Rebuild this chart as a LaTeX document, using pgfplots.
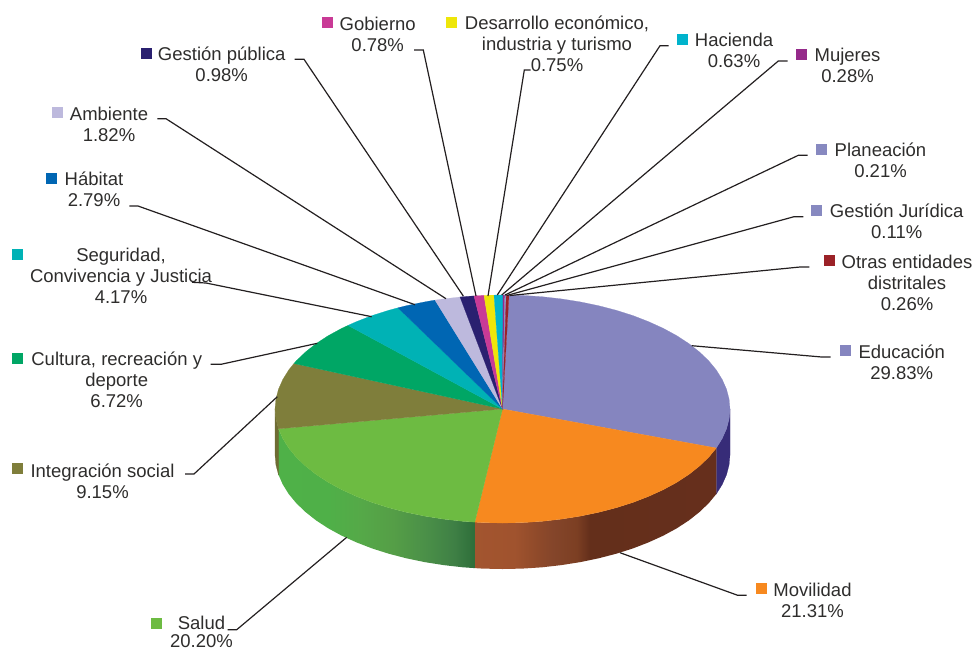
\documentclass[border=0pt]{standalone}
\usepackage{fontspec}
\setmainfont{Liberation Sans}
\usepackage{pgfplots}
\pgfplotsset{compat=1.18}

% top faces
\definecolor{edu}{HTML}{8585BF}
\definecolor{mov}{HTML}{F7891F}
\definecolor{sal}{HTML}{6DBB42}
\definecolor{int}{HTML}{7F7E3B}
\definecolor{cul}{HTML}{00A665}
\definecolor{seg}{HTML}{00B2B5}
\definecolor{hab}{HTML}{0066B3}
\definecolor{amb}{HTML}{BDB9DD}
\definecolor{gpu}{HTML}{2A2070}
\definecolor{gob}{HTML}{C93A96}
\definecolor{des}{HTML}{EEE609}
\definecolor{hac}{HTML}{00B3CC}
\definecolor{muj}{HTML}{952A8A}
\definecolor{pla}{HTML}{8789C0}
\definecolor{jur}{HTML}{8789C0}
\definecolor{otr}{HTML}{9B2227}
\definecolor{txt}{HTML}{2E2D2C}
\definecolor{lead}{HTML}{231F20}
\definecolor{eduside}{HTML}{372C78}
\definecolor{intside}{HTML}{6E6C33}

% side walls: the path's box runs from 25bp to 75bp of the shading
\pgfdeclarehorizontalshading{salside}{100bp}{
  rgb(0bp)=(0.31,0.694,0.282);
  rgb(25bp)=(0.31,0.694,0.282);
  rgb(37.6bp)=(0.31,0.69,0.282);
  rgb(45.8bp)=(0.333,0.663,0.282);
  rgb(54.2bp)=(0.333,0.62,0.278);
  rgb(62.8bp)=(0.29,0.561,0.282);
  rgb(69.5bp)=(0.247,0.502,0.271);
  rgb(75bp)=(0.18,0.431,0.227);
  rgb(100bp)=(0.18,0.431,0.227)}
\pgfdeclarehorizontalshading{movside}{100bp}{
  rgb(0bp)=(0.639,0.333,0.184);
  rgb(25bp)=(0.639,0.333,0.184);
  rgb(33.3bp)=(0.627,0.325,0.18);
  rgb(37.9bp)=(0.561,0.29,0.165);
  rgb(41.2bp)=(0.518,0.271,0.165);
  rgb(46.1bp)=(0.486,0.247,0.137);
  rgb(48.8bp)=(0.392,0.184,0.106);
  rgb(75bp)=(0.4,0.184,0.11);
  rgb(100bp)=(0.4,0.184,0.11)}

\newcommand{\face}[2]{\addplot[fill=#1,draw=#1,line width=0.2pt] coordinates {#2} --cycle;}
\newcommand{\leader}[1]{\addplot[lead,line width=1.2pt] coordinates {#1};}
\newcommand{\key}[3]{\addplot[only marks,mark=square*,mark size=5pt,color=#1] coordinates {(#2,#3)};}
\newcommand{\lab}[3]{\node[txt,align=center,inner sep=0pt,font=\fontsize{18.5}{21.2}\selectfont] at (axis cs:#1,#2) {#3};}

\begin{document}
\begin{tikzpicture}
\path[use as bounding box] (0,0) rectangle (976pt,651pt);
\begin{axis}[
  at={(0,0)}, anchor=south west,
  scale only axis, width=976pt, height=651pt,
  xmin=0, xmax=976, ymin=0, ymax=651,
  y dir=reverse,
  hide axis, clip=false,
]
% side walls
\face{eduside}{(730,409)(729.1,418.9)(726.5,428.8)(722.2,438.5)(716.3,448)(716.3,494)(722.2,484.5)(726.5,474.8)(729.1,464.9)(730,455)}
\addplot[shade,shading=movside,draw=none] coordinates {(716.3,448)(708.7,457.2)(699.5,466)(688.9,474.4)(676.8,482.3)(663.4,489.6)(648.7,496.3)(633,502.4)(616.3,507.7)(598.6,512.3)(580.3,516.1)(561.4,519.1)(542,521.3)(522.3,522.6)(502.5,523)(482.7,522.6)(474.8,522.1)(474.8,568.1)(482.7,568.6)(502.5,569)(522.3,568.6)(542,567.3)(561.4,565.1)(580.3,562.1)(598.6,558.3)(616.3,553.7)(633,548.4)(648.7,542.3)(663.4,535.6)(676.8,528.3)(688.9,520.4)(699.5,512)(708.7,503.2)(716.3,494)} --cycle;
\addplot[shade,shading=salside,draw=none] coordinates {(474.8,522.1)(463,521.3)(443.6,519.1)(424.7,516.1)(406.4,512.3)(388.7,507.7)(372,502.4)(356.3,496.3)(341.6,489.6)(328.2,482.3)(316.1,474.4)(305.5,466)(296.3,457.2)(288.7,448)(282.8,438.5)(278.5,428.8)(278.5,474.8)(282.8,484.5)(288.7,494)(296.3,503.2)(305.5,512)(316.1,520.4)(328.2,528.3)(341.6,535.6)(356.3,542.3)(372,548.4)(388.7,553.7)(406.4,558.3)(424.7,562.1)(443.6,565.1)(463,567.3)(474.8,568.1)} --cycle;
\face{intside}{(278.5,428.8)(275.9,418.9)(275,409)(275,455)(275.9,464.9)(278.5,474.8)}

% top face
\face{edu}{(502.5,409)(509,295.1)(522.3,295.4)(542,296.7)(561.4,298.9)(580.3,301.9)(598.6,305.7)(616.3,310.3)(633,315.6)(648.7,321.7)(663.4,328.4)(676.8,335.7)(688.9,343.6)(699.5,352)(708.7,360.8)(716.3,370)(722.2,379.5)(726.5,389.2)(729.1,399.1)(730,409)(729.1,418.9)(726.5,428.8)(722.2,438.5)(716.3,448)}
\face{mov}{(502.5,409)(716.3,448)(708.7,457.2)(699.5,466)(688.9,474.4)(676.8,482.3)(663.4,489.6)(648.7,496.3)(633,502.4)(616.3,507.7)(598.6,512.3)(580.3,516.1)(561.4,519.1)(542,521.3)(522.3,522.6)(502.5,523)(482.7,522.6)(474.8,522.1)}
\face{sal}{(502.5,409)(474.8,522.1)(463,521.3)(443.6,519.1)(424.7,516.1)(406.4,512.3)(388.7,507.7)(372,502.4)(356.3,496.3)(341.6,489.6)(328.2,482.3)(316.1,474.4)(305.5,466)(296.3,457.2)(288.7,448)(282.8,438.5)(278.5,428.8)}
\face{int}{(502.5,409)(278.5,428.8)(275.9,418.9)(275,409)(275.9,399.1)(278.5,389.2)(282.8,379.5)(288.7,370)(293.9,363.5)}
\face{cul}{(502.5,409)(293.9,363.5)(296.3,360.8)(305.5,352)(316.1,343.6)(328.2,335.7)(341.6,328.4)(348,325.4)}
\face{seg}{(502.5,409)(348,325.4)(356.3,321.7)(372,315.6)(388.7,310.3)(398,307.8)}
\face{hab}{(502.5,409)(398,307.8)(406.4,305.7)(424.7,301.9)(435,300.1)}
\face{amb}{(502.5,409)(435,300.1)(443.6,298.9)(460,297)}
\face{gpu}{(502.5,409)(460,297)(463,296.7)(474,295.9)}
\face{gob}{(502.5,409)(474,295.9)(482.7,295.4)(484,295.4)}
\face{des}{(502.5,409)(484,295.4)(494,295.1)}
\face{hac}{(502.5,409)(494,295.1)(503,295)}
\face{muj}{(502.5,409)(503,295)(504.8,295)}
\face{pla}{(502.5,409)(504.8,295)(505.8,295)}
\face{jur}{(502.5,409)(505.8,295)(506.3,295)}
\face{otr}{(502.5,409)(506.3,295)(509,295.1)}

% leader lines
\leader{(294.7,59.3)(304,59.3)(463.3,296)}
\leader{(414,50)(423.3,50)(476,296)}
\leader{(530.7,70)(524.3,70)(488,296)}
\leader{(668.7,45.7)(660,45.7)(497.3,295)}
\leader{(787.7,61)(778.3,61)(501.7,295)}
\leader{(807.7,155.3)(798.3,155.3)(505,295)}
\leader{(803.3,216.7)(794,216.7)(506.7,295.5)}
\leader{(809.3,267)(800,267)(510,295.5)}
\leader{(157.3,118.7)(166,118.7)(446,298.7)}
\leader{(129.3,206)(138,206)(415,304.7)}
\leader{(192,282.3)(206,283)(371.7,316.7)}
\leader{(210.7,364.3)(221,364.3)(317.3,343.3)}
\leader{(185,474)(194,474)(277.3,396.7)}
\leader{(227.7,629.7)(236.7,629.7)(346.7,537.3)}
\leader{(830.7,357)(821.7,357)(691.7,345.7)}
\leader{(746.7,595.3)(737.7,595.3)(620,552.7)}

% legend keys
\key{edu}{845}{350}
\key{mov}{761}{588}
\key{sal}{156}{623}
\key{int}{17}{467.7}
\key{cul}{17}{358}
\key{seg}{17}{254}
\key{hab}{51}{178}
\key{amb}{57}{112}
\key{gpu}{146}{52.7}
\key{gob}{327}{22}
\key{des}{451}{22}
\key{hac}{682}{39}
\key{muj}{801}{54}
\key{pla}{821}{149}
\key{jur}{816}{210}
\key{otr}{829}{260}

% labels
\lab{377.7}{34}{Gobierno\\0.78\%}
\lab{557}{44}{Desarrollo económico,\\industria y turismo\\0.75\%}
\lab{221.7}{64.5}{Gestión pública\\0.98\%}
\lab{109}{124}{Ambiente\\1.82\%}
\lab{94}{189}{Hábitat\\2.79\%}
\lab{121}{276}{Seguridad,\\Convivencia y Justicia\\4.17\%}
\lab{116.7}{380}{Cultura, recreación y\\deporte\\6.72\%}
\lab{102.5}{481}{Integración social\\9.15\%}
\lab{201.5}{631.75}{Salud\\[-2.5pt]20.20\%}
\lab{901.7}{362}{Educación\\29.83\%}
\lab{812.5}{600}{Movilidad\\21.31\%}
\lab{734}{50}{Hacienda\\0.63\%}
\lab{847.5}{65}{Mujeres\\0.28\%}
\lab{880.5}{160}{Planeación\\0.21\%}
\lab{896.7}{221}{Gestión Jurídica\\0.11\%}
\lab{907}{282.7}{Otras entidades\\distritales\\0.26\%}
\end{axis}
\end{tikzpicture}
\end{document}
